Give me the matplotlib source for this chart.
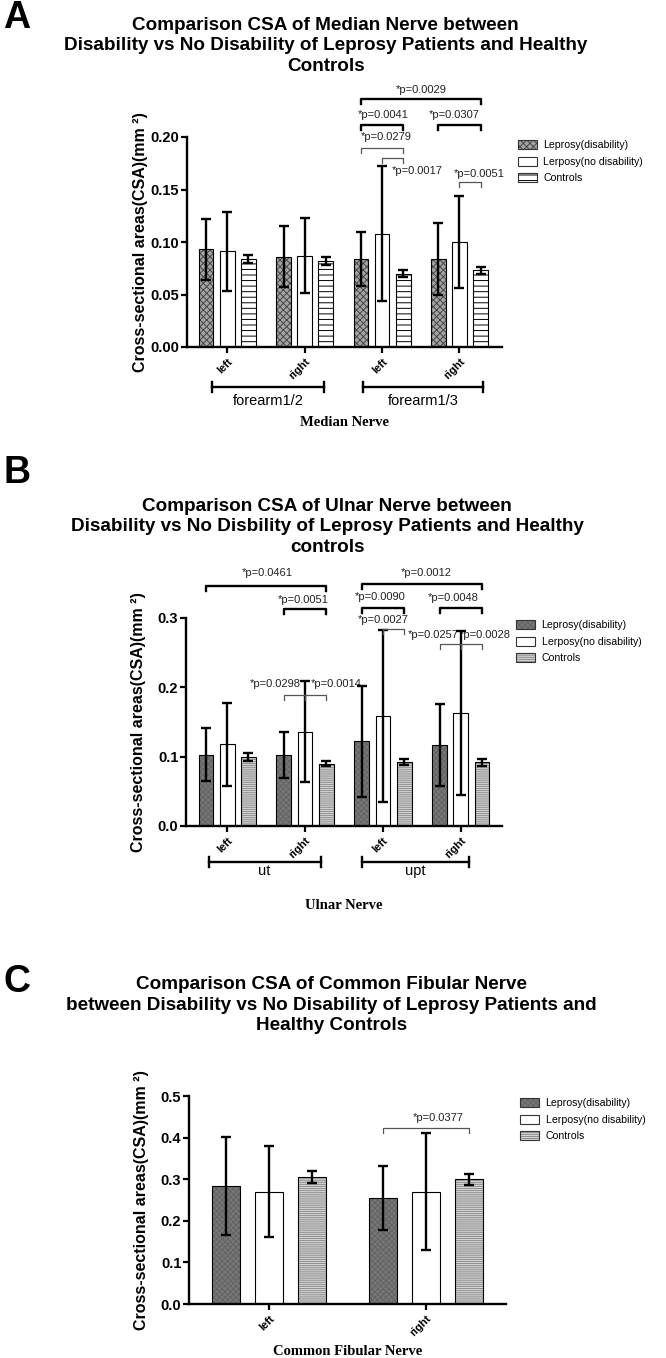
import numpy as np
import matplotlib
matplotlib.use('Agg')
import matplotlib.pyplot as plt
from matplotlib import font_manager
from matplotlib.patches import Patch
from matplotlib.ticker import FormatStrFormatter
import matplotlib.transforms as mtransforms

# ---- data (mean, SD) ----
median_ticks = ['left', 'right', 'left', 'right']
median_groups = ['forearm1/2', 'forearm1/3']
median_dis = [0.093, 0.086, 0.084, 0.084]
median_dis_sd = [0.029, 0.029, 0.026, 0.034]
median_nodis = [0.091, 0.087, 0.108, 0.100]
median_nodis_sd = [0.038, 0.036, 0.064, 0.044]
median_ctrl = [0.084, 0.082, 0.070, 0.073]
median_ctrl_sd = [0.004, 0.004, 0.003, 0.003]

ulnar_ticks = ['left', 'right', 'left', 'right']
ulnar_groups = ['ut', 'upt']
ulnar_dis = [0.103, 0.102, 0.122, 0.117]
ulnar_dis_sd = [0.038, 0.033, 0.080, 0.059]
ulnar_nodis = [0.118, 0.136, 0.158, 0.163]
ulnar_nodis_sd = [0.060, 0.073, 0.124, 0.118]
ulnar_ctrl = [0.100, 0.090, 0.092, 0.092]
ulnar_ctrl_sd = [0.006, 0.004, 0.0045, 0.0048]

fib_ticks = ['left', 'right']
fib_dis = [0.284, 0.255]
fib_dis_sd = [0.117, 0.077]
fib_nodis = [0.270, 0.270]
fib_nodis_sd = [0.110, 0.140]
fib_ctrl = [0.305, 0.300]
fib_ctrl_sd = [0.015, 0.013]

series_names = ['Leprosy(disability)', 'Lerposy(no disability)', 'Controls']

# significance: text, (group, series) from, (group, series) to, bracket y, thick
median_pvals = [('*p=0.0029', (2, 0), (3, 2), 0.2365, True),
                ('*p=0.0041', (2, 0), (2, 2), 0.2117, True),
                ('*p=0.0307', (3, 0), (3, 2), 0.2117, True),
                ('*p=0.0279', (2, 0), (2, 2), 0.1895, False),
                ('*p=0.0017', (2, 1), (2, 2), 0.180, False),
                ('*p=0.0051', (3, 1), (3, 2), 0.157, False)]
median_ptext = [(2.50, 0.2445), (2.02, 0.221), (2.93, 0.221),
                (2.05, 0.200), (2.45, 0.1676), (3.26, 0.165)]

ulnar_pvals = [('*p=0.0461', (0, 0), (1, 2), 0.3466, True),
               ('*p=0.0051', (1, 0), (1, 2), 0.3125, True),
               ('*p=0.0012', (2, 0), (3, 2), 0.3495, True),
               ('*p=0.0090', (2, 0), (2, 2), 0.3144, True),
               ('*p=0.0048', (3, 0), (3, 2), 0.3144, True),
               ('*p=0.0027', (2, 1), (2, 2), 0.2837, False),
               ('*p=0.0257', (3, 0), (3, 1), 0.262, False),
               ('*p=0.0028', (3, 1), (3, 2), 0.262, False),
               ('*p=0.0298', (1, 0), (1, 1), 0.1887, False),
               ('*p=0.0014', (1, 1), (1, 2), 0.1887, False)]
ulnar_ptext = [(0.52, 0.365), (0.98, 0.3255), (2.56, 0.365), (1.97, 0.331),
               (2.90, 0.329), (2.00, 0.2967), (2.64, 0.275), (3.32, 0.275),
               (0.62, 0.2045), (1.40, 0.2045)]

fib_pvals = [('*p=0.0377', (1, 0), (1, 2), 0.4223, False)]
fib_ptext = [(1.076, 0.446)]

# ---- fonts ----
installed = {f.name for f in font_manager.fontManager.ttflist}
if 'Liberation Sans Narrow' in installed:
    NARROW = ['Liberation Sans Narrow', 'DejaVu Sans']
    title_size, letter_size, small = 15, 28, 8.5
    title_ls = 1.12
else:
    NARROW = ['Liberation Sans', 'DejaVu Sans']
    title_size, letter_size, small = 13.6, 27, 7.6
    title_ls = 1.24
plt.rcParams['font.family'] = ['Liberation Sans', 'DejaVu Sans']
plt.rcParams['hatch.linewidth'] = 0.7

styles_a = [dict(face='#a4a4a4', hatch='xxxxx', hc='#474747'),
            dict(face='white', hatch=None, hc='black'),
            dict(face='white', hatch='---', hc='black')]
styles_bc = [dict(face='#777777', hatch='xxxxxx', hc='#636363'),
             dict(face='white', hatch=None, hc='black'),
             dict(face='#d6d6d6', hatch='--------', hc='#8c8c8c')]

fig = plt.figure(figsize=(6.66, 13.58), dpi=100)
H = 1358.0
W = 666.0


def make_axes(l, r, top, bottom):
    return fig.add_axes([l / W, 1 - bottom / H, (r - l) / W, (bottom - top) / H])


def draw_panel(ax, ticks, means, sds, styles, step, width, ylim, yticks, fmt,
               xlim, pvals, ptext, legend_xy):
    x = np.arange(len(ticks))
    offs = [-step, 0, step]
    for k in range(3):
        st = styles[k]
        pos = x + offs[k]
        ax.bar(pos, means[k], width, color=st['face'], hatch=st['hatch'],
               edgecolor=st['hc'], linewidth=0, zorder=2)
        ax.bar(pos, means[k], width, fill=False, edgecolor='black',
               linewidth=0.8, zorder=3)
        ax.errorbar(pos, means[k], yerr=sds[k], fmt='none', ecolor='black',
                    elinewidth=1.7, capsize=3.3, capthick=1.7, zorder=4)
    ax.set_xlim(*xlim)
    ax.set_ylim(*ylim)
    ax.set_yticks(yticks)
    ax.yaxis.set_major_formatter(FormatStrFormatter(fmt))
    ax.set_xticks(x)
    ax.set_xticklabels(ticks, rotation=45, ha='right', rotation_mode='anchor',
                       fontsize=8, fontweight='bold')
    for s in ['top', 'right']:
        ax.spines[s].set_visible(False)
    for s in ['left', 'bottom']:
        ax.spines[s].set_linewidth(1.7)
    ax.tick_params(axis='both', direction='out', length=4, width=1.6)
    ax.tick_params(axis='y', labelsize=10.5, pad=1.5)
    ax.tick_params(axis='x', pad=3)
    for lab in ax.get_yticklabels():
        lab.set_fontweight('bold')
    ax.set_ylabel('Cross-sectional areas(CSA)(mm \u00b2)', fontsize=11.5,
                  fontweight='bold')
    ax.yaxis.set_label_coords(-0.125, 0.5)

    yr = ylim[1] - ylim[0]
    drop = yr * 5.0 / 210
    for (txt, a, b, y, thick), (tx, ty) in zip(pvals, ptext):
        x1 = a[0] + offs[a[1]]
        x2 = b[0] + offs[b[1]]
        ax.plot([x1, x1, x2, x2], [y - drop, y, y, y - drop],
                color='black' if thick else '#555555',
                lw=1.7 if thick else 0.9, clip_on=False, zorder=5)
        ax.text(tx, ty, txt, ha='center', va='center', fontsize=small + 0.4,
                family=NARROW, color='#222222', clip_on=False)

    handles = []
    for st in styles:
        handles.append((Patch(facecolor=st['face'], hatch=st['hatch'],
                              edgecolor=st['hc'], linewidth=0),
                        Patch(fill=False, edgecolor='#333333', linewidth=0.8)))
    ax.legend(handles, series_names, loc='upper left',
              bbox_to_anchor=legend_xy, frameon=False, borderaxespad=0,
              borderpad=0, handlelength=1.8, handleheight=0.95,
              handletextpad=0.6, labelspacing=0.6,
              prop={'family': NARROW, 'size': small})


def group_brackets(ax, spans, names, yline, ylab):
    tr = mtransforms.blended_transform_factory(ax.transData, ax.transAxes)
    for (x1, x2), nm in zip(spans, names):
        ax.plot([x1, x2], [yline, yline], color='black', lw=1.7,
                transform=tr, clip_on=False)
        for xx in (x1, x2):
            ax.plot([xx, xx], [yline - 0.025, yline + 0.025], color='black',
                    lw=1.7, transform=tr, clip_on=False)
        ax.text((x1 + x2) / 2, ylab, nm, ha='center', va='center',
                fontsize=10.5, family=NARROW, transform=tr)


# ---- panel A ----
ax_a = make_axes(187, 502, 137, 347)
draw_panel(ax_a, median_ticks,
           [median_dis, median_nodis, median_ctrl],
           [median_dis_sd, median_nodis_sd, median_ctrl_sd],
           styles_a, 0.273, 0.19, (0, 0.20), [0, 0.05, 0.10, 0.15, 0.20],
           '%.2f', (-0.52, 3.55), median_pvals, median_ptext, (1.05, 0.985))
group_brackets(ax_a, [(-0.2, 1.25), (1.76, 3.31)], median_groups, -0.19, -0.255)
ax_a.text(0.5, -0.36, 'Median Nerve', transform=ax_a.transAxes, ha='center',
          va='center', fontsize=10.5, fontweight='bold', family='Liberation Serif')

# ---- panel B ----
ax_b = make_axes(186, 502, 618, 826)
draw_panel(ax_b, ulnar_ticks,
           [ulnar_dis, ulnar_nodis, ulnar_ctrl],
           [ulnar_dis_sd, ulnar_nodis_sd, ulnar_ctrl_sd],
           styles_bc, 0.273, 0.19, (0, 0.3), [0, 0.1, 0.2, 0.3],
           '%.1f', (-0.53, 3.53), ulnar_pvals, ulnar_ptext, (1.045, 0.99))
group_brackets(ax_b, [(-0.24, 1.2), (1.73, 3.1)], ulnar_groups, -0.173, -0.215)
ax_b.text(0.5, -0.38, 'Ulnar Nerve', transform=ax_b.transAxes, ha='center',
          va='center', fontsize=10.5, fontweight='bold', family='Liberation Serif')

# ---- panel C ----
ax_c = make_axes(189, 506, 1096, 1304)
draw_panel(ax_c, fib_ticks,
           [fib_dis, fib_nodis, fib_ctrl],
           [fib_dis_sd, fib_nodis_sd, fib_ctrl_sd],
           styles_bc, 0.272, 0.178, (0, 0.5), [0, 0.1, 0.2, 0.3, 0.4, 0.5],
           '%.1f', (-0.51, 1.51), fib_pvals, fib_ptext, (1.045, 0.99))
ax_c.text(0.5, -0.23, 'Common Fibular Nerve', transform=ax_c.transAxes,
          ha='center', va='center', fontsize=10.5, fontweight='bold',
          family='Liberation Serif')

# ---- titles and panel letters ----
titles = [('A', 'Comparison CSA of Median Nerve between\n'
                'Disability vs No Disability of Leprosy Patients and Healthy\n'
                'Controls', 18, 46, 0.489),
          ('B', 'Comparison CSA of Ulnar Nerve between\n'
                'Disability vs No Disbility of Leprosy Patients and Healthy\n'
                'controls', 473, 527, 0.491),
          ('C', 'Comparison CSA of Common Fibular Nerve\n'
                'between Disability vs No Disability of Leprosy Patients and\n'
                'Healthy Controls', 982, 1005, 0.498)]
for letter, title, ly, ty, tx in titles:
    fig.text(17 / W, 1 - ly / H, letter, ha='center', va='center',
             fontsize=letter_size, fontweight='bold', family=NARROW)
    fig.text(tx, 1 - ty / H, title, ha='center', va='center',
             fontsize=title_size, fontweight='bold', family=NARROW,
             linespacing=title_ls)

fig.savefig('out.png', dpi=100)
